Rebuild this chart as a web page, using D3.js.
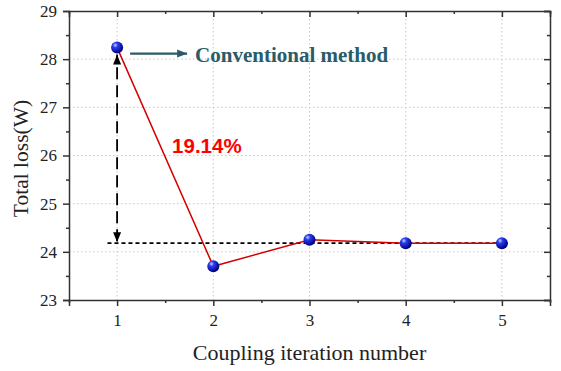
<!DOCTYPE html>
<html>
<head>
<meta charset="utf-8">
<script src="https://cdn.jsdelivr.net/npm/d3@7"></script>
<style>
body { margin: 0; background: #fff; }
</style>
</head>
<body>
<div id="chart"></div>
<script>
var iterations = [1, 2, 3, 4, 5],
    totalLoss = [28.24, 23.7, 24.25, 24.18, 24.18],
    refLevel = 24.18,
    xTicks = [1, 2, 3, 4, 5],
    yTicks = [23, 24, 25, 26, 27, 28, 29];

var width = 561, height = 371;
var margin = {top: 11, right: 11, bottom: 71, left: 69};
var w = width - margin.left - margin.right,
    h = height - margin.top - margin.bottom;

var x = d3.scaleLinear().domain([0.5, 5.5]).range([0, w]);
var y = d3.scaleLinear().domain([23, 29]).range([h, 0]);

var svg = d3.select("#chart").append("svg")
  .attr("width", width).attr("height", height)
  .append("g")
  .attr("transform", "translate(" + margin.left + "," + margin.top + ")");

var defs = svg.append("defs");
var grad = defs.append("radialGradient").attr("id", "ball")
  .attr("cx", "35%").attr("cy", "30%").attr("r", "70%");
grad.append("stop").attr("offset", "0%").attr("stop-color", "#c8d0ff");
grad.append("stop").attr("offset", "30%").attr("stop-color", "#2a3cf0");
grad.append("stop").attr("offset", "100%").attr("stop-color", "#00007a");

function arrowHead(id, color) {
  defs.append("marker").attr("id", id)
    .attr("viewBox", "0 0 10 10").attr("refX", 10).attr("refY", 5)
    .attr("markerWidth", 10).attr("markerHeight", 10)
    .attr("markerUnits", "userSpaceOnUse")
    .attr("orient", "auto")
    .append("path").attr("d", "M0,1 L10,5 L0,9 Z").attr("fill", color);
}
arrowHead("blk", "#000");
arrowHead("teal", "#2a5b68");

// grid
svg.append("g").selectAll("line").data(xTicks).enter().append("line")
  .attr("x1", d => x(d)).attr("x2", d => x(d)).attr("y1", 0).attr("y2", h)
  .attr("stroke", "#c8c8c8").attr("stroke-dasharray", "1.5,2.5");
svg.append("g").selectAll("line").data(yTicks.slice(1, -1)).enter().append("line")
  .attr("y1", d => y(d)).attr("y2", d => y(d)).attr("x1", 0).attr("x2", w)
  .attr("stroke", "#c8c8c8").attr("stroke-dasharray", "1.5,2.5");

// axes
var xMinor = d3.range(0.5, 5.51, 0.5), yMinor = d3.range(23, 29.01, 0.5);
function styleAxis(g) {
  g.select(".domain").attr("stroke", "#333").attr("stroke-width", 1.5);
  g.selectAll(".tick line").attr("stroke", "#333").attr("stroke-width", 1.5);
  g.selectAll("text").attr("font-family", "Liberation Serif, Times New Roman, serif")
    .attr("font-size", 17).attr("fill", "#222");
}
svg.append("g").attr("transform", "translate(0," + h + ")")
  .call(d3.axisBottom(x).tickValues(xMinor).tickSize(6).tickPadding(8)
    .tickFormat(d => Number.isInteger(d) && d >= 1 ? d : ""))
  .call(styleAxis)
  .selectAll(".tick line").attr("y2", d => Number.isInteger(d) ? 6 : 3);
svg.append("g")
  .call(d3.axisLeft(y).tickValues(yMinor).tickSize(6).tickPadding(6)
    .tickFormat(d => Number.isInteger(d) ? d : ""))
  .call(styleAxis)
  .selectAll(".tick line").attr("x2", d => Number.isInteger(d) ? -6 : -3);
svg.append("g")
  .call(d3.axisTop(x).tickValues(xMinor).tickSize(-6).tickFormat(""))
  .call(styleAxis)
  .selectAll(".tick line").attr("y2", d => Number.isInteger(d) ? 6 : 3);
svg.append("g").attr("transform", "translate(" + w + ",0)")
  .call(d3.axisRight(y).tickValues(yMinor).tickSize(-6).tickFormat(""))
  .call(styleAxis)
  .selectAll(".tick line").attr("x2", d => Number.isInteger(d) ? -6 : -3);

// reference dashed line
svg.append("line")
  .attr("x1", x(0.9)).attr("x2", x(5.06))
  .attr("y1", y(refLevel)).attr("y2", y(refLevel))
  .attr("stroke", "#000").attr("stroke-width", 1.8).attr("stroke-dasharray", "4,3");

// data line
var line = d3.line().x((d, i) => x(iterations[i])).y(d => y(d));
svg.append("path").datum(totalLoss)
  .attr("d", line).attr("fill", "none").attr("stroke", "#d40000").attr("stroke-width", 1.5);

// double arrow
svg.append("line")
  .attr("x1", x(1)).attr("x2", x(1))
  .attr("y1", y(refLevel) - 2).attr("y2", y(totalLoss[0]) + 7)
  .attr("stroke", "#000").attr("stroke-width", 1.8).attr("stroke-dasharray", "12,6")
  .attr("marker-end", "url(#blk)");
svg.append("line")
  .attr("x1", x(1)).attr("x2", x(1))
  .attr("y1", y(totalLoss[0]) + 20).attr("y2", y(refLevel) - 1)
  .attr("stroke", "none")
  .attr("marker-end", "url(#blk)");

// markers
svg.append("g").selectAll("circle").data(totalLoss).enter().append("circle")
  .attr("cx", (d, i) => x(iterations[i])).attr("cy", d => y(d))
  .attr("r", 6).attr("fill", "url(#ball)");

// annotation arrow + text
svg.append("line")
  .attr("x1", x(1) + 13).attr("x2", x(1) + 70)
  .attr("y1", y(totalLoss[0]) + 6).attr("y2", y(totalLoss[0]) + 6)
  .attr("stroke", "#2a5b68").attr("stroke-width", 2.2)
  .attr("marker-end", "url(#teal)");
svg.append("text")
  .attr("x", x(1) + 78).attr("y", y(totalLoss[0]) + 14)
  .attr("font-family", "Liberation Serif, Times New Roman, serif")
  .attr("font-weight", "bold").attr("font-size", 21).attr("fill", "#2a5b68")
  .text("Conventional method");
svg.append("text")
  .attr("x", x(1) + 55).attr("y", y(26.05))
  .attr("font-family", "Liberation Sans, Arial, sans-serif")
  .attr("font-weight", "bold").attr("font-size", 20.5).attr("fill", "#ff0000")
  .text("19.14%");

// axis titles
svg.append("text")
  .attr("transform", "translate(" + (-41) + "," + (h / 2 + 3) + ") rotate(-90)")
  .attr("text-anchor", "middle")
  .attr("font-family", "Liberation Serif, Times New Roman, serif")
  .attr("font-size", 21.5).attr("fill", "#222")
  .text("Total loss(W)");
svg.append("text")
  .attr("x", w / 2).attr("y", h + 60)
  .attr("text-anchor", "middle")
  .attr("font-family", "Liberation Serif, Times New Roman, serif")
  .attr("font-size", 22).attr("fill", "#222")
  .text("Coupling iteration number");
</script>
</body>
</html>
